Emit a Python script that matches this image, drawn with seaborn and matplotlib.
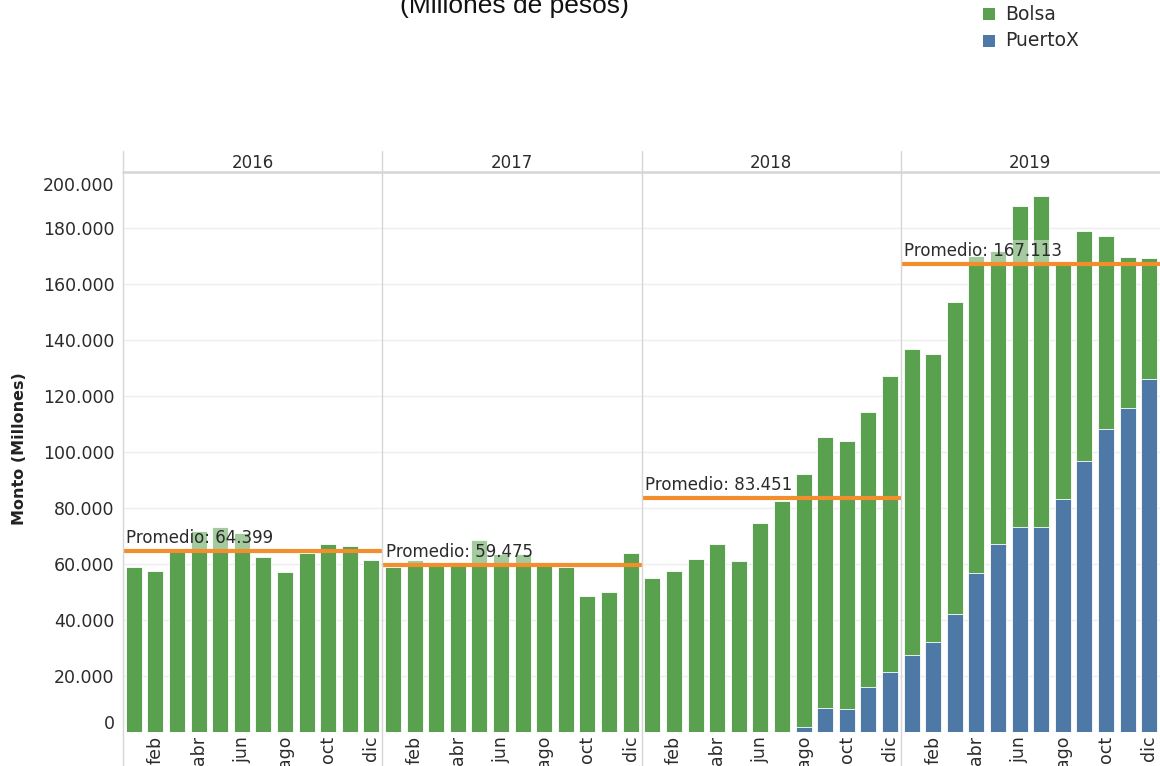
import matplotlib
matplotlib.use("Agg")
import matplotlib.pyplot as plt
import matplotlib.transforms as mtransforms
from matplotlib.patches import Rectangle
import numpy as np
import pandas as pd
import seaborn as sns

GREEN = "#59A14F"
BLUE = "#4E79A7"
ORANGE = "#F28E2B"
LINE_GRAY = "#d6d6d6"
TEXT = "#2b2b2b"

years = ["2016", "2017", "2018", "2019"]
months = ["ene", "feb", "mar", "abr", "may", "jun", "jul", "ago", "sep", "oct", "nov", "dic"]

# monto total mensual (Bolsa + PuertoX), millones de pesos
total_2016 = [58900, 57500, 64100, 71700, 73000, 70900, 62400, 57100, 64000, 66900, 66300, 61300]
total_2017 = [59000, 61500, 59200, 60700, 68500, 63600, 63600, 59200, 59000, 48600, 50000, 63800]
total_2018 = [55000, 57300, 61600, 66900, 60900, 74700, 82500, 92200, 105200, 104000, 114300, 127100]
total_2019 = [136600, 134900, 153700, 170000, 171800, 187700, 191500, 167000, 178900, 177000, 169700, 169300]

# parte PuertoX
puertox_2016 = [0] * 12
puertox_2017 = [0] * 12
puertox_2018 = [0, 0, 0, 0, 0, 0, 0, 1800, 8600, 8000, 15800, 21400]
puertox_2019 = [27500, 32200, 42200, 56800, 67200, 73300, 73300, 83200, 96900, 108000, 115700, 126200]

promedios = [64399, 59475, 83451, 167113]

df = pd.DataFrame({
    "anio": np.repeat(years, 12),
    "mes": months * 4,
    "total": total_2016 + total_2017 + total_2018 + total_2019,
    "puertox": puertox_2016 + puertox_2017 + puertox_2018 + puertox_2019,
})
df["periodo"] = df["anio"] + "-" + df["mes"]

sns.set_theme(style="white")
plt.rcParams["font.family"] = "DejaVu Sans"

W, H = 1160, 766
fig = plt.figure(figsize=(W / 100, H / 100), dpi=100)
ax = fig.add_axes([123 / W, 1 - 731.7 / H, 1 - 123 / W, (731.7 - 172) / H])

sns.barplot(data=df, x="periodo", y="total", color=GREEN, saturation=1,
            width=0.74, errorbar=None, ax=ax, edgecolor="white", linewidth=0.6)
sns.barplot(data=df, x="periodo", y="puertox", color=BLUE, saturation=1,
            width=0.74, errorbar=None, ax=ax, edgecolor="white", linewidth=0.6)

ax.set_xlim(-0.5, 47.5)
ax.set_ylim(0, 200000)
for s in ax.spines.values():
    s.set_visible(False)

yt = np.arange(0, 200001, 20000)
ax.set_yticks(yt)
ax.set_yticklabels([f"{v:,}".replace(",", ".") for v in yt], fontsize=12.5, color=TEXT)
ax.yaxis.grid(True, color="#ededed", lw=1)
ax.set_axisbelow(True)
ax.tick_params(axis="y", length=0, pad=6)

ax.set_xticks(range(48))
ax.set_xticklabels([m if j % 2 == 1 else "" for j, m in enumerate(months * 4)],
                   rotation=90, fontsize=12.5, color=TEXT)
ax.tick_params(axis="x", length=0, pad=3)
ax.set_xlabel("")
ax.set_ylabel("")

# etiquetas de borde empujadas hacia adentro (como Tableau)
ylabels = ax.get_yticklabels()
ylabels[0].set_transform(ylabels[0].get_transform() + mtransforms.ScaledTranslation(0, 0.10, fig.dpi_scale_trans))
ylabels[-1].set_transform(ylabels[-1].get_transform() + mtransforms.ScaledTranslation(0, -0.125, fig.dpi_scale_trans))

# separadores de paneles y cabecera de años
blend = mtransforms.blended_transform_factory(ax.transData, fig.transFigure)
for k in range(4):
    x0 = k * 12 - 0.5
    ax.plot([x0, x0], [0, 1 - 151 / H], transform=blend, color=LINE_GRAY, lw=1, clip_on=False, zorder=6)
    ax.text(k * 12 + 5.5, 1 - 163.5 / H, years[k], transform=blend, ha="center", va="center",
            fontsize=12, color=TEXT)
ax.plot([0, 1], [1, 1], transform=ax.transAxes, color=LINE_GRAY, lw=1.8, clip_on=False, zorder=6)

# promedios anuales
txt_tr = mtransforms.offset_copy(ax.transData, fig=fig, x=2.5, y=5.8, units="points")
for k, p in enumerate(promedios):
    ax.hlines(p, k * 12 - 0.5, k * 12 + 11.5, color=ORANGE, lw=3, zorder=5)
    ax.text(k * 12 - 0.5, p, f"Promedio: {p:,}".replace(",", "."), transform=txt_tr,
            ha="left", va="baseline", fontsize=12, color=TEXT, zorder=4,
            bbox=dict(boxstyle="square,pad=0.12", fc="white", ec="none", alpha=0.45))

# eje Y y título
fig.text(19.5 / W, 1 - 449 / H, "Monto (Millones)", rotation=90, ha="center", va="center",
         fontsize=11.5, fontweight="bold", color="#222222")
fig.text(514 / W, 1 - 12.7 / H, "(Millones de pesos)", ha="center", va="baseline",
         fontsize=19, family="Liberation Sans", color="#111111")

# leyenda
for name, col, yc in [("Bolsa", GREEN, 14), ("PuertoX", BLUE, 40.5)]:
    fig.add_artist(Rectangle((983 / W, 1 - (yc + 6) / H), 12 / W, 12 / H,
                             transform=fig.transFigure, color=col, lw=0))
    fig.text(1005 / W, 1 - yc / H, name, ha="left", va="center", fontsize=13.5, color=TEXT)

fig.savefig("out.png", dpi=100, facecolor="white")
